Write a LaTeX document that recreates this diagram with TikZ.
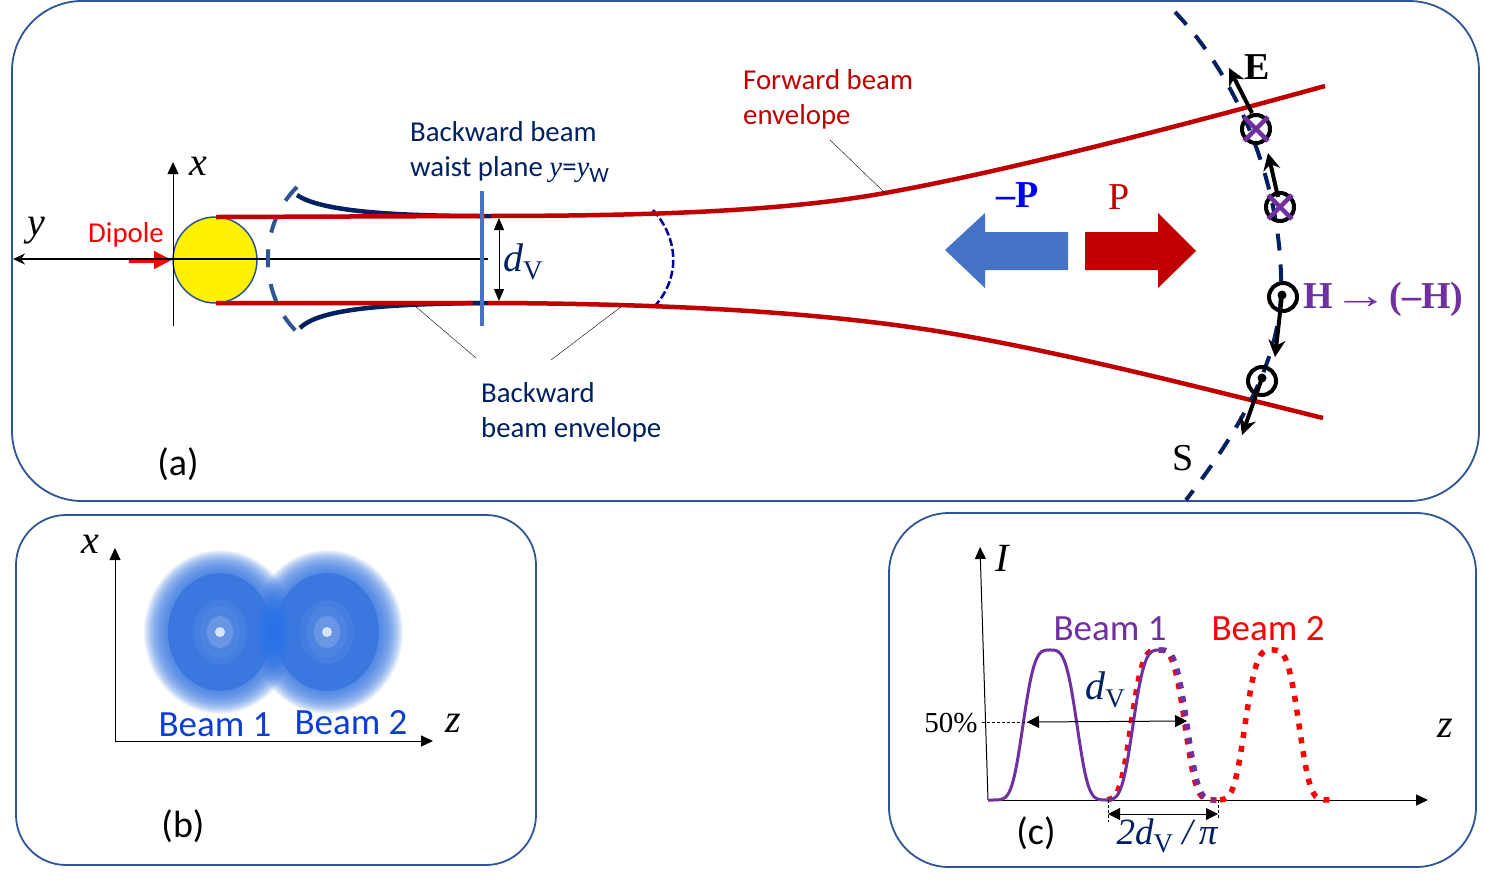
\documentclass[tikz,border=0pt]{standalone}
\usepackage{fontspec}
\setmainfont{Liberation Serif}
\newfontfamily\calib{Carlito}
\usetikzlibrary{arrows.meta}
\definecolor{panelblue}{HTML}{2F5597}
\definecolor{navyline}{HTML}{002060}
\definecolor{darkred}{HTML}{C00000}
\definecolor{planeblue}{HTML}{4472C4}
\definecolor{purpleH}{HTML}{7030A0}
\definecolor{beamblue}{HTML}{3A78E0}
\definecolor{beamcore}{HTML}{2070F0}
\definecolor{labelblue}{HTML}{0B3FD0}
\newcommand{\fsize}[1]{\fontsize{#1}{#1}\selectfont}
\newcommand{\dV}{{\itshape d}\raisebox{-0.2em}{\upshape\fsize{27}V}}
\newcommand{\hump}[1]{800-150*exp(-pow(abs(#1)/30,3.5))}
\tikzset{
  panel/.style={draw=panelblue,line width=1.8pt,rounded corners=#1},
  lab/.style={inner sep=0pt,font=\calib\fsize{28.8}},
  bigLab/.style={inner sep=0pt,font=\calib\fsize{37}},
  tag/.style={inner sep=0pt,font=\calib\fsize{38}},
  sym/.style={inner sep=0pt,font=\itshape\fsize{40}},
  axis/.style={line width=1pt,-{Triangle[length=12pt,width=11pt]}},
  envelope/.style={darkred,line width=4.5pt},
  fieldarrow/.style={line width=4pt,-{Stealth[length=17pt,width=17pt]}},
  ringmark/.style={draw=black,line width=4pt},
  humpdot/.style={line width=5.5pt,dash pattern=on 6pt off 8pt}
}
\begin{document}
\begin{tikzpicture}[x=1pt,y=-1pt]
\useasboundingbox (0,0) rectangle (1485,879);

\draw[panel=70pt] (12,1) rectangle (1479,501);
\draw[panel=50pt] (16,515) rectangle (536,865);
\draw[panel=60pt] (889,513) rectangle (1476,867);

\coordinate (origA) at (173,259);
\coordinate (waistC) at (488,259);
\coordinate (yEnd) at (13,259);
\filldraw[fill=yellow,draw=panelblue,line width=1.5pt] (215,260) ellipse (42 and 43);
\draw[-{Triangle[length=18pt,width=17pt]},red,line width=5pt] (129,260) -- (172,260);
\draw[line width=1.5pt,-{Stealth[length=12pt,width=11pt]}] (waistC) -- (yEnd);
\draw[axis,line width=.8pt] (173,326) -- (173,162);

\draw[panelblue,line width=4pt,dash pattern=on 18pt off 17pt] (297,187) .. controls (258,225) and (258,295) .. (298,333);
\draw[navyline,line width=4.5pt] (297,195) .. controls (320,211) and (390,216) .. (484,216);
\draw[navyline,line width=4.5pt] (300,328) .. controls (320,308) and (390,304) .. (484,303);
\draw[blue!60!black,line width=2.5pt,dash pattern=on 8pt off 3pt] (653,210) .. controls (680,240) and (680,280) .. (653,308);

\draw[envelope] (216,217) -- (480,216) .. controls (640,216) and (780,212) .. (885,193) .. controls (980,176) and (1130,140) .. (1325,86);
\draw[envelope] (216,303) -- (500,303) .. controls (650,304) and (800,310) .. (930,330) .. controls (1050,349) and (1190,385) .. (1323,418);
\draw[navyline,line width=4.5pt] (485,216) -- (491,216);
\draw[navyline,line width=4.5pt] (473,303) -- (488,303);
\draw[planeblue,line width=4pt] (482,191) -- (482,326);
\draw[line width=1pt,{Triangle[length=12pt,width=10pt]}-{Triangle[length=12pt,width=10pt]}] (499,218) -- (499,301);

\node[lab,text=red,anchor=west] (dipole) at (88,235) {Dipole};
\node[sym] (xA) at (198,166) {x};
\node[sym] (yA) at (36,231) {y};
\node[sym,text=navyline,anchor=west] (dA) at (503,262) {\dV};
\node[lab,text=navyline,anchor=west,align=left] (waist) at (410,152) {Backward beam\\[6.5pt]waist plane {\rmfamily\itshape y}={\rmfamily\itshape y}\raisebox{-0.2em}{\fsize{22}W}};
\node[lab,text=darkred,anchor=west,align=left] (forward) at (743,99) {Forward beam\\[6.5pt]envelope};
\node[lab,text=navyline,anchor=west,align=left] (backward) at (481,412) {Backward\\[6.5pt]beam envelope};
\node[tag] (tagA) at (178,464) {(a)};

\coordinate (fwdFrom) at (830,140);
\coordinate (fwdTo) at (885,193);
\coordinate (backOneFrom) at (476,358);
\coordinate (backOneTo) at (415,306);
\coordinate (backTwoFrom) at (551,360);
\coordinate (backTwoTo) at (622,306);
\draw (fwdFrom) -- (fwdTo);
\draw (backOneFrom) -- (backOneTo);
\draw (backTwoFrom) -- (backTwoTo);

\fill[planeblue] (945,250) -- (985,213) -- (985,232) -- (1068,232) -- (1068,270) -- (985,270) -- (985,288) -- cycle;
\fill[darkred] (1196,251) -- (1158,213) -- (1158,232) -- (1085,232) -- (1085,270) -- (1158,270) -- (1158,288) -- cycle;
\node[inner sep=0pt,text=blue,font=\bfseries\fsize{38}] (minusP) at (1018,195) {–P};
\node[inner sep=0pt,text=darkred,font=\fsize{38}] (plusP) at (1119,197) {P};

\draw[navyline,line width=4pt,dash pattern=on 17pt off 14pt] (1175,12) .. controls (1240,80) and (1283,190) .. (1281,290) .. controls (1280,360) and (1240,430) .. (1186,500);
\foreach \cx/\cy in {1256/129,1280/207,1283/297,1262/381}
  \draw[ringmark] (\cx,\cy) circle (14);
\foreach \cx/\cy in {1256/129,1280/207}
  \draw[purpleH,line width=4.5pt] (\cx-12,\cy-12) -- (\cx+12,\cy+12) (\cx+12,\cy-12) -- (\cx-12,\cy+12);
\foreach \cx/\cy in {1282/295,1262/378}
  \fill (\cx,\cy) circle (4.5);
\draw[fieldarrow] (1252,113) -- (1229,68);
\draw[fieldarrow] (1278,197) -- (1268,153);
\draw[fieldarrow] (1282,295) -- (1275,357);
\draw[fieldarrow] (1262,378) -- (1242,435);
\node[inner sep=0pt,font=\bfseries\fsize{38}] (fieldE) at (1257,67) {E};
\node[inner sep=0pt,font=\fsize{38}] (poyntS) at (1183,458) {S};
\node[inner sep=0pt,text=purpleH,font=\bfseries\fsize{38},anchor=west] (fieldH) at (1303,299) {H\hspace{1pt}{\mdseries\scalebox{1.45}[1]{→}}\hspace{.5pt}(–H)};

\foreach \cx in {220,327} {
  \foreach \rr in {0,...,24}
    \fill[beamblue,opacity=.08] (\cx,632) ellipse ({52+\rr*1} and {59+\rr*.95});
  \fill[beamblue] (\cx,632) ellipse (52 and 59);
}
\foreach \rr in {1,...,10}
  \fill[beamcore,opacity=.1] (273.5,632) ellipse ({\rr*1.6} and {\rr*4});
\foreach \cx in {220,327} {
  \fill[white,opacity=.05] (\cx,632) ellipse (27 and 32);
  \fill[white,opacity=.05] (\cx,632) ellipse (20 and 26);
  \fill[white,opacity=.16] (\cx,632) ellipse (13 and 16);
  \fill[white!80!beamblue] (\cx,632) circle (5);
}
\coordinate (origB) at (115,741);
\draw[axis] (origB) -- (115,548);
\draw[axis] (origB) -- (433,741);
\node[sym] (xB) at (90,544) {x};
\node[sym] (zB) at (453,723) {z};
\node[bigLab,text=labelblue] (beamOne) at (215,725) {Beam 1};
\node[bigLab,text=labelblue] (beamTwo) at (351,723) {Beam 2};
\node[tag] (tagB) at (183,826) {(b)};

\coordinate (origC) at (988,800);
\draw[axis] (origC) -- (980,547);
\draw[axis] (origC) -- (1428,800);
\draw[red,humpdot] plot[smooth,domain=-51:60,samples=31] ({1158+\x},{\hump{\x}});
\draw[red,humpdot] plot[smooth,domain=-52:63,samples=31] ({1272+\x},{\hump{\x}});
\draw[purpleH,line width=3pt] plot[smooth,domain=-62:57,samples=41] ({1050+\x},{\hump{\x}});
\draw[purpleH,line width=3pt] plot[smooth,domain=-53:0,samples=21] ({1160+\x},{\hump{\x}});
\draw[purpleH,humpdot] plot[smooth,domain=0:55,samples=21] ({1160+\x},{\hump{\x}});

\draw[densely dashed,line width=.6pt] (982,722) -- (1030,722);
\draw[line width=1pt,{Triangle[length=12pt,width=12pt]}-{Triangle[length=12pt,width=12pt]}] (1027,722) -- (1187,721);
\draw[densely dashed,line width=.6pt] (1108,800) -- (1108,822);
\draw[densely dashed,line width=.6pt] (1218,800) -- (1218,820);
\draw[line width=1pt,{Triangle[length=12pt,width=12pt]}-{Triangle[length=12pt,width=12pt]}] (1108,814) -- (1218,814);
\node[sym] (iC) at (1002,558) {I};
\node[sym] (zC) at (1445,728) {z};
\node[inner sep=0pt,font=\fsize{29}] (half) at (951,723) {50\%};
\node[sym,text=navyline] (dC) at (1105,690) {\dV};
\node[sym,text=navyline,font=\itshape\fsize{37}] (periodC) at (1167,836) {2\dV{} /\,π};
\node[bigLab,text=purpleH] (beamOneC) at (1110,629) {Beam 1};
\node[bigLab,text=red] (beamTwoC) at (1268,629) {Beam 2};
\node[tag] (tagC) at (1036,833) {(c)};
\end{tikzpicture}
\end{document}
